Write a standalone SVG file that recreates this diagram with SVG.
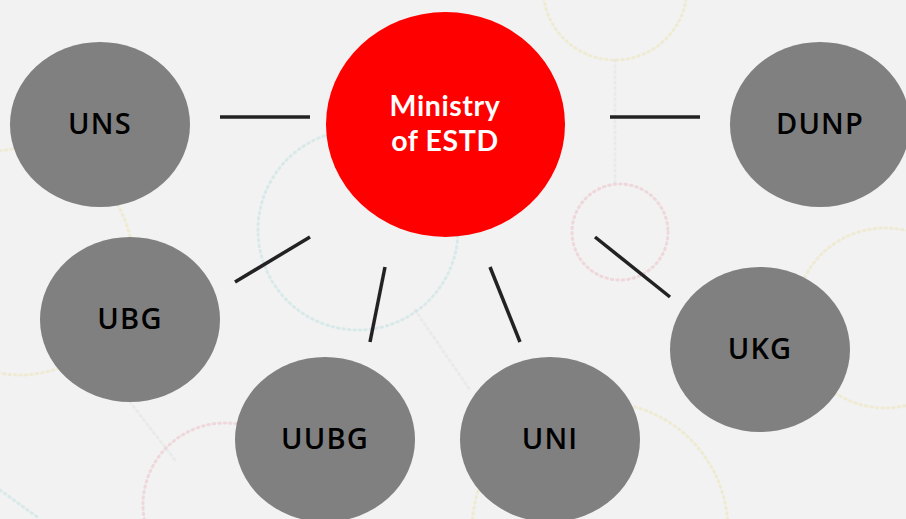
<svg xmlns="http://www.w3.org/2000/svg" width="906" height="519" viewBox="0 0 906 519">
<style>
.bg{fill:none;stroke-width:3;stroke-dasharray:1.5 4;stroke-linecap:round;opacity:0.3}
.y{stroke:#e8dc8a}.t{stroke:#9fd3d6}.p{stroke:#e79aa5}.g{stroke:#d8d8d8}
.node{fill:#808080}
.lbl{font-family:"Open Sans","Noto Sans",sans-serif;font-size:29px;font-weight:600;letter-spacing:1.2px;fill:#000;text-anchor:middle}
.main{font-family:Lato,"Open Sans",sans-serif;font-size:28.5px;font-weight:700;letter-spacing:0.6px;fill:#fff;text-anchor:middle}
.conn line{stroke:#222;stroke-width:3.5}
</style>
<rect width="906" height="519" fill="#f2f2f2"/>
<g id="background">
<circle class="bg y" cx="615" cy="-12" r="72"/>
<circle class="bg t" cx="358" cy="230" r="100"/>
<circle class="bg p" cx="620" cy="232" r="48"/>
<circle class="bg y" cx="885" cy="318" r="90"/>
<circle class="bg y" cx="20" cy="262" r="113"/>
<circle class="bg p" cx="225" cy="505" r="82"/>
<circle class="bg y" cx="600" cy="530" r="128"/>
<line class="bg g" x1="615" y1="60" x2="615" y2="184"/>
<line class="bg g" x1="130" y1="402" x2="175" y2="460"/>
<line class="bg g" x1="415" y1="310" x2="470" y2="390"/>
<line class="bg t" x1="0" y1="490" x2="40" y2="519"/>
</g>
<g class="conn" id="connectors">
<line x1="220" y1="117" x2="310" y2="117"/>
<line x1="610" y1="117" x2="700" y2="117"/>
<line x1="310" y1="237" x2="235" y2="282"/>
<line x1="385" y1="267" x2="370" y2="342"/>
<line x1="490" y1="267" x2="520" y2="342"/>
<line x1="595" y1="237" x2="670" y2="297"/>
</g>
<g id="ministry">
<ellipse cx="445.5" cy="124.5" rx="119.5" ry="112.5" fill="#ff0000"/>
<text class="main" x="445" y="116">Ministry</text>
<text class="main" x="445" y="150.5">of ESTD</text>
</g>
<g id="uns"><ellipse class="node" cx="100" cy="124.5" rx="90" ry="82.5"/><text class="lbl" x="100" y="134">UNS</text></g>
<g id="dunp"><ellipse class="node" cx="820" cy="124.5" rx="90" ry="82.5"/><text class="lbl" x="820" y="134">DUNP</text></g>
<g id="ubg"><ellipse class="node" cx="130" cy="319.5" rx="90" ry="82.5"/><text class="lbl" x="130" y="329">UBG</text></g>
<g id="uubg"><ellipse class="node" cx="325" cy="439.5" rx="90" ry="82.5"/><text class="lbl" x="325" y="449">UUBG</text></g>
<g id="uni"><ellipse class="node" cx="550" cy="439.5" rx="90" ry="82.5"/><text class="lbl" x="550" y="449">UNI</text></g>
<g id="ukg"><ellipse class="node" cx="760" cy="349.5" rx="90" ry="82.5"/><text class="lbl" x="760" y="359">UKG</text></g>
</svg>
